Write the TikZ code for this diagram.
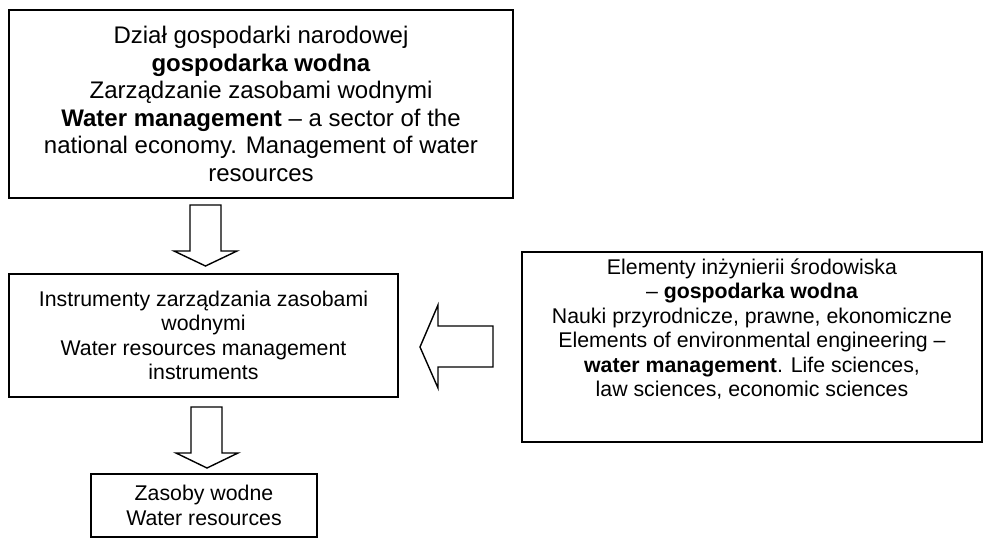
\documentclass[tikz,border=0pt]{standalone}
\usepackage{fontspec}
\setmainfont{Liberation Sans}
\begin{document}
\begin{tikzpicture}[x=1pt,y=-1pt,
  box/.style={draw, line width=1.6pt, inner sep=0pt, align=center},
  bigfont/.style={font=\fontsize{24}{27.5}\selectfont},
  midfont/.style={font=\fontsize{21.3}{24.5}\selectfont},
  blockarrow/.style={draw, line width=1.4pt, line join=miter, fill=white}]
\useasboundingbox (0,0) rectangle (985,538);
\fill[white] (0,0) rectangle (985,538);

\node[box, bigfont, minimum width=504pt, minimum height=188pt] (top) at (261,104)
 {Dział gospodarki narodowej\\
  \textbf{gospodarka wodna}\\
  Zarządzanie zasobami wodnymi\\
  \textbf{Water management} – a sector of the\\
  national economy. Management of water\\
  resources};

\node[box, midfont, minimum width=389pt, minimum height=123pt] (instr) at (203.5,335.5)
 {Instrumenty zarządzania zasobami\\
  wodnymi\\
  Water resources management\\
  instruments};

\node[box, midfont, minimum width=226pt, minimum height=63pt] (res) at (204,505.5)
 {Zasoby wodne\\
  Water resources};

\node[box, minimum width=460pt, minimum height=190pt, anchor=north west] (elem) at (521,251) {};
\node[midfont, align=center, inner sep=0pt] (elemtext) at (752,329)
 {Elementy inżynierii środowiska\\
  – \textbf{gospodarka wodna}\\
  Nauki przyrodnicze, prawne, ekonomiczne\\
  Elements of environmental engineering –\\
  \textbf{water management}. Life sciences,\\
  law sciences, economic sciences};

% block arrows
\draw[blockarrow] (190,205) -- (221,205) -- (221,251) -- (237,251) -- (205.5,266)
  -- (174,251) -- (190,251) -- cycle;
\draw[blockarrow] (191,407) -- (222,407) -- (222,453) -- (238,453) -- (207,468)
  -- (176,453) -- (191,453) -- cycle;
\draw[blockarrow] (493,326) -- (438,326) -- (438,305) -- (420,347) -- (438,388)
  -- (438,367) -- (493,367) -- cycle;
\end{tikzpicture}
\end{document}
